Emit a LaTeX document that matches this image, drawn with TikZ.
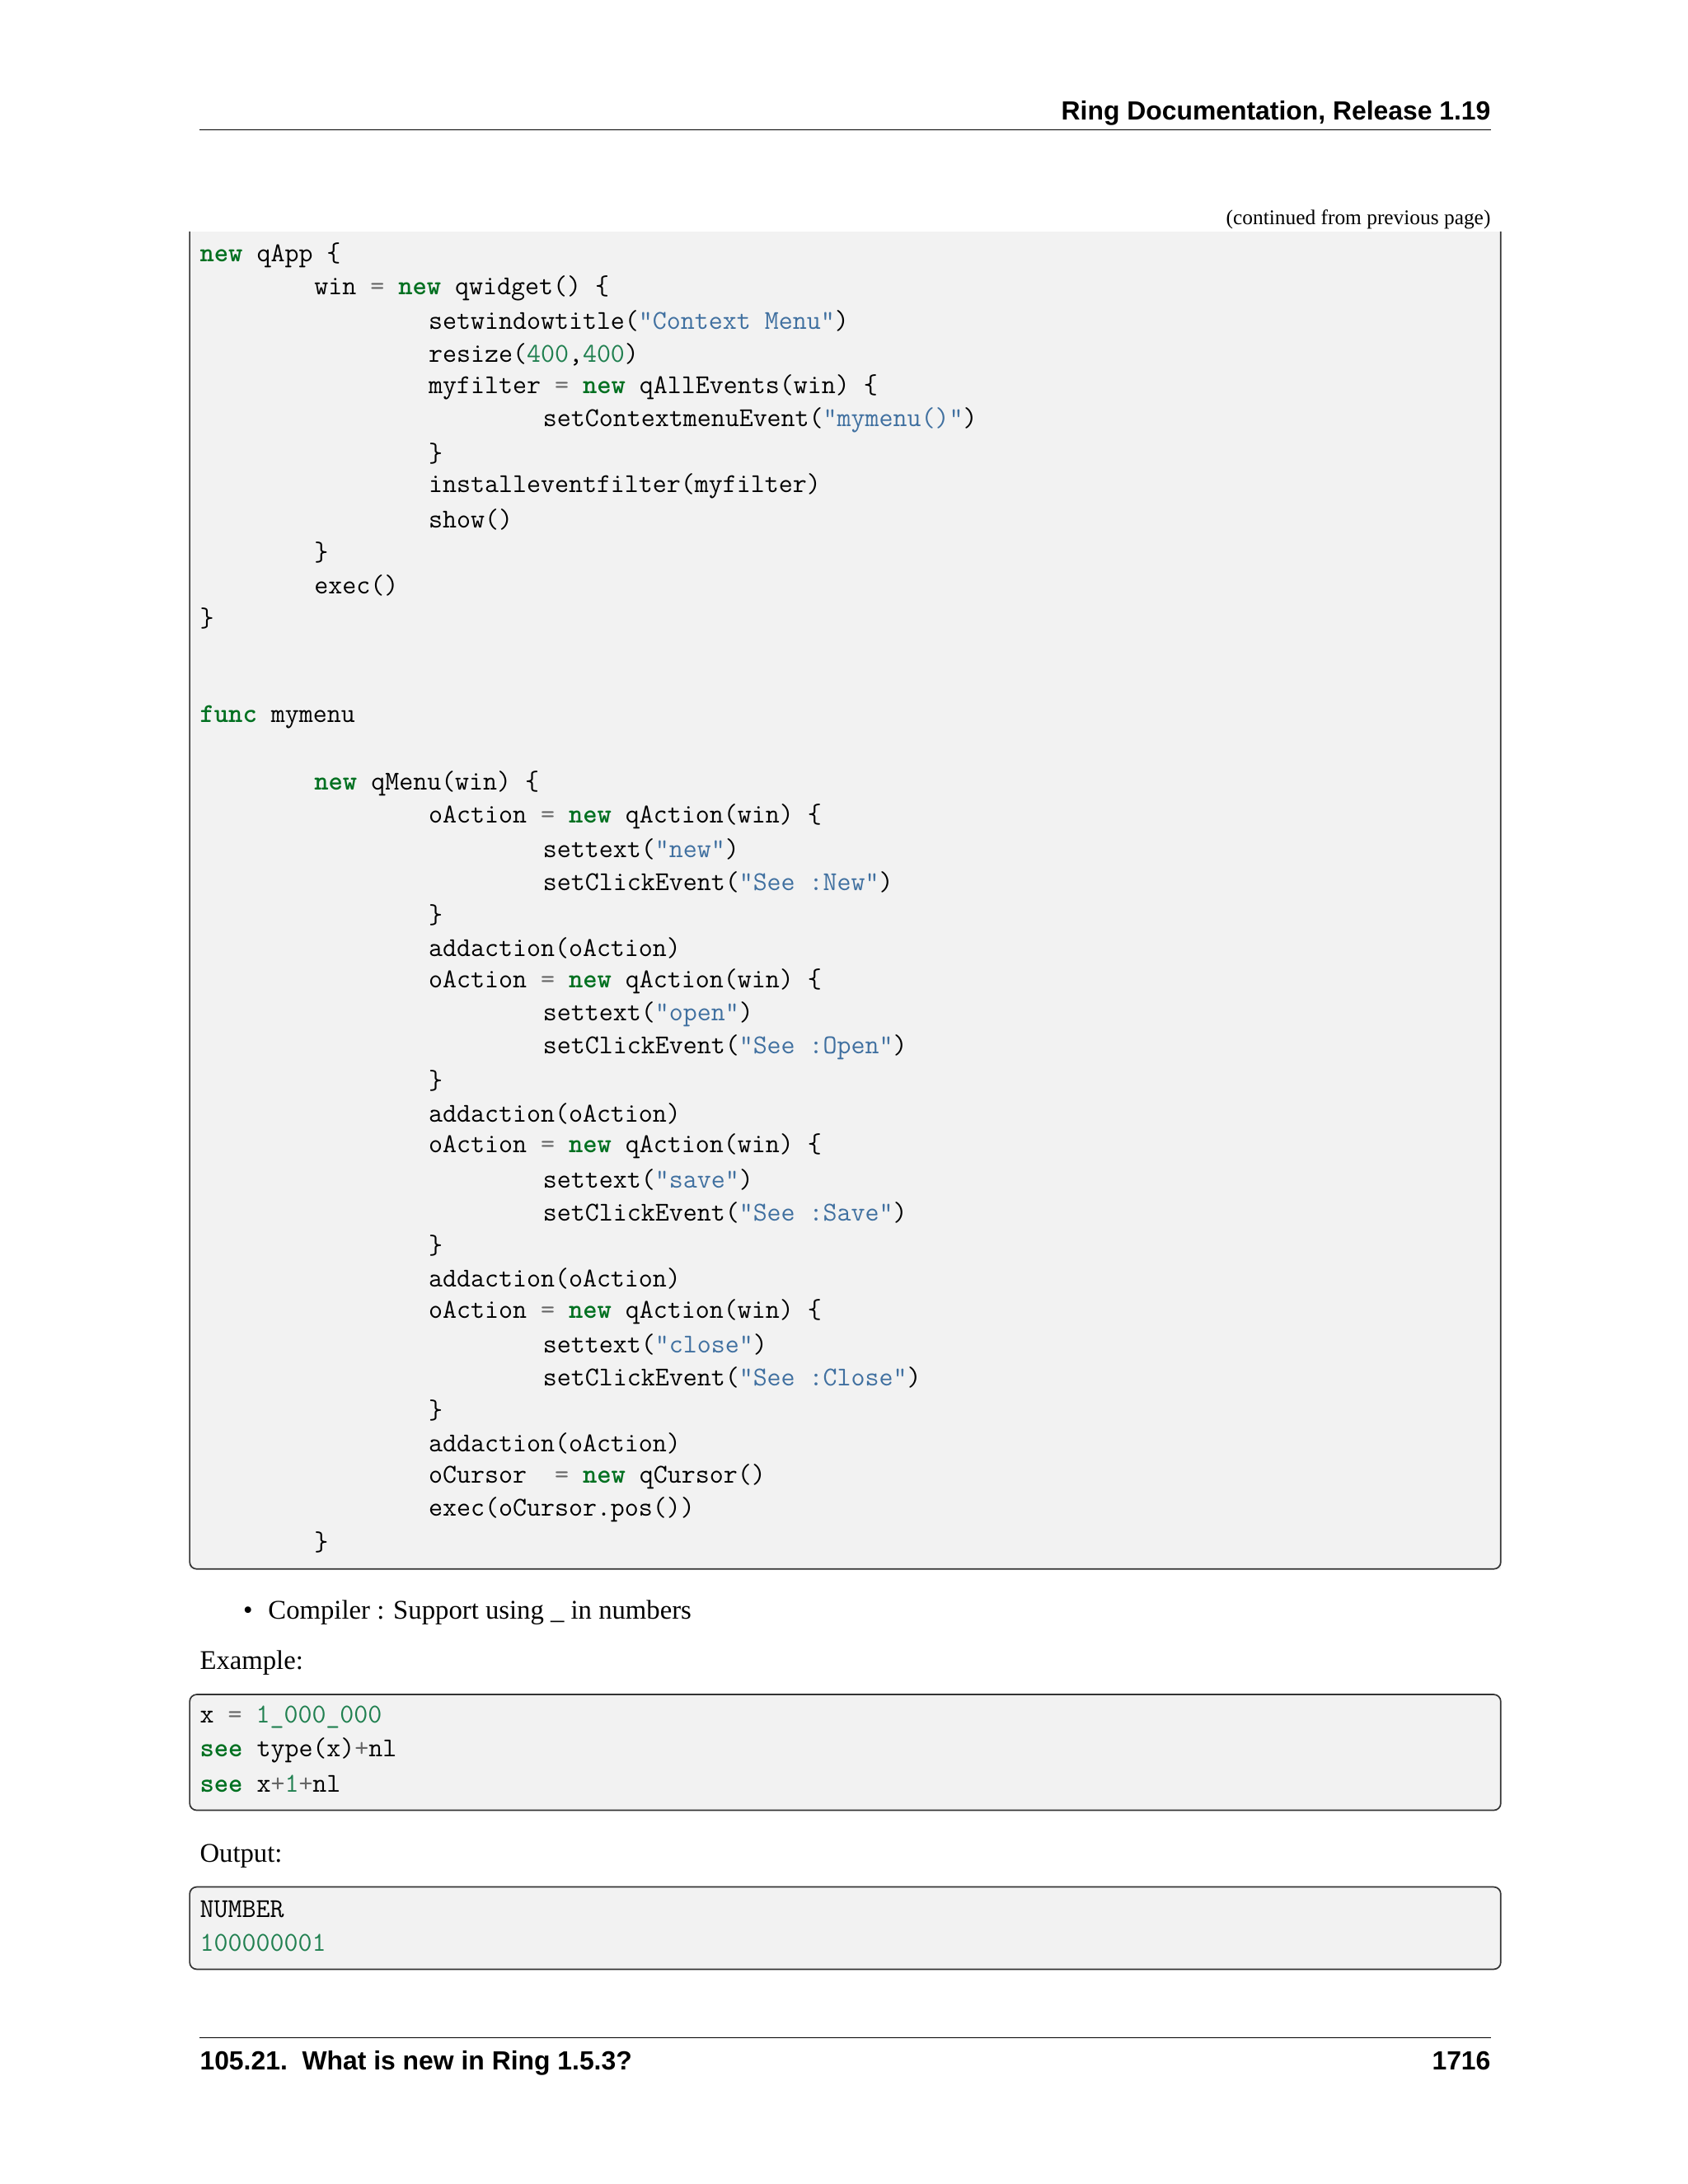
\documentclass[tikz,border=0pt]{standalone}
\usepackage{fontspec}
\setmainfont{Liberation Serif}
\newfontfamily\hdr{Liberation Sans}
\usepackage{xcolor}
\definecolor{kw}{HTML}{007020}
\definecolor{st}{HTML}{4070A0}
\definecolor{nu}{HTML}{208050}
\definecolor{op}{HTML}{666666}
\definecolor{bg}{HTML}{F2F2F2}
\definecolor{bd}{HTML}{333333}
\newcommand{\Kw}[1]{\textcolor{kw}{\bfseries #1}}
\newcommand{\St}[1]{\textcolor{st}{#1}}
\newcommand{\Nu}[1]{\textcolor{nu}{#1}}
\newcommand{\Eq}{\textcolor{op}{=}}
\newcommand{\Pl}{\textcolor{op}{+}}
\begin{document}
\begin{tikzpicture}[x=0.6pt,y=-0.6pt,
  code/.style={anchor=west,inner sep=0pt,font=\ttfamily\fontsize{11.7}{14}\selectfont},
  body/.style={anchor=base west,inner sep=0pt,font=\fontsize{11.6}{14}\selectfont},
  head/.style={inner sep=0pt,font=\hdr\bfseries\fontsize{11.3}{14}\selectfont},
  box/.style={fill=bg,draw=bd,line width=0.6pt,rounded corners=3pt}]
\useasboundingbox (0,0) rectangle (1210,1566);
% header
\node[head,anchor=base east] (ht) at (1069,86) {Ring Documentation, Release 1.19};
\draw[line width=0.6pt] (143,93) -- (1069,93);
\node[inner sep=0pt,anchor=base east,font=\fontsize{9}{11}\selectfont] (cont) at (1069,161) {(continued from previous page)};
% big box (open top)
\fill[bg] (136,166) rectangle (1076,1125);
\draw[bd,line width=0.6pt,rounded corners=3pt] (136,166) -- (136,1125) -- (1076,1125) -- (1076,166);
\def\ya{183}\def\dy{23.67}
\def\L#1#2#3{\node[code] (l#1) at ({143+82*#2},{\ya+\dy*#1}) {#3};}
\L{0}{0}{\Kw{new} qApp \{}
\L{1}{1}{win \Eq{} \Kw{new} qwidget() \{}
\L{2}{2}{setwindowtitle(\St{"Context Menu"})}
\L{3}{2}{resize(\Nu{400},\Nu{400})}
\L{4}{2}{myfilter \Eq{} \Kw{new} qAllEvents(win) \{}
\L{5}{3}{setContextmenuEvent(\St{"mymenu()"})}
\L{6}{2}{\}}
\L{7}{2}{installeventfilter(myfilter)}
\L{8}{2}{show()}
\L{9}{1}{\}}
\L{10}{1}{exec()}
\L{11}{0}{\}}
\L{14}{0}{\Kw{func} mymenu}
\L{16}{1}{\Kw{new} qMenu(win) \{}
\L{17}{2}{oAction \Eq{} \Kw{new} qAction(win) \{}
\L{18}{3}{settext(\St{"new"})}
\L{19}{3}{setClickEvent(\St{"See :New"})}
\L{20}{2}{\}}
\L{21}{2}{addaction(oAction)}
\L{22}{2}{oAction \Eq{} \Kw{new} qAction(win) \{}
\L{23}{3}{settext(\St{"open"})}
\L{24}{3}{setClickEvent(\St{"See :Open"})}
\L{25}{2}{\}}
\L{26}{2}{addaction(oAction)}
\L{27}{2}{oAction \Eq{} \Kw{new} qAction(win) \{}
\L{28}{3}{settext(\St{"save"})}
\L{29}{3}{setClickEvent(\St{"See :Save"})}
\L{30}{2}{\}}
\L{31}{2}{addaction(oAction)}
\L{32}{2}{oAction \Eq{} \Kw{new} qAction(win) \{}
\L{33}{3}{settext(\St{"close"})}
\L{34}{3}{setClickEvent(\St{"See :Close"})}
\L{35}{2}{\}}
\L{36}{2}{addaction(oAction)}
\L{37}{2}{oCursor\ \ \Eq{} \Kw{new} qCursor()}
\L{38}{2}{exec(oCursor.pos())}
\L{39}{1}{\}}
% bullet
\node[body] (bul) at (174,1161) {\textbullet};
\node[body] (comp) at (192,1161) {Compiler : Support using \_ in numbers};
\node[body] (ex) at (143,1197) {Example:};
\draw[box] (136,1215) rectangle (1076,1298);
\def\ya{1231}
\L{0}{0}{x \Eq{} \Nu{1\_000\_000}}
\def\ya{1231}\node[code] (e1) at (143,1255) {\Kw{see} type(x)\Pl{}nl};
\node[code] (e2) at (143,1279) {\Kw{see} x\Pl\Nu{1}\Pl{}nl};
\node[body] (out) at (143,1335) {Output:};
\draw[box] (136,1353) rectangle (1076,1412);
\node[code] (o1) at (143,1369) {NUMBER};
\node[code] (o2) at (143,1393) {\Nu{100000001}};
% footer
\draw[line width=0.6pt] (143,1461) -- (1069,1461);
\node[head,anchor=base west] (fl) at (143,1484) {105.21.\ \ What is new in Ring 1.5.3?};
\node[head,anchor=base east] (fr) at (1069,1484) {1716};
\end{tikzpicture}
\end{document}
